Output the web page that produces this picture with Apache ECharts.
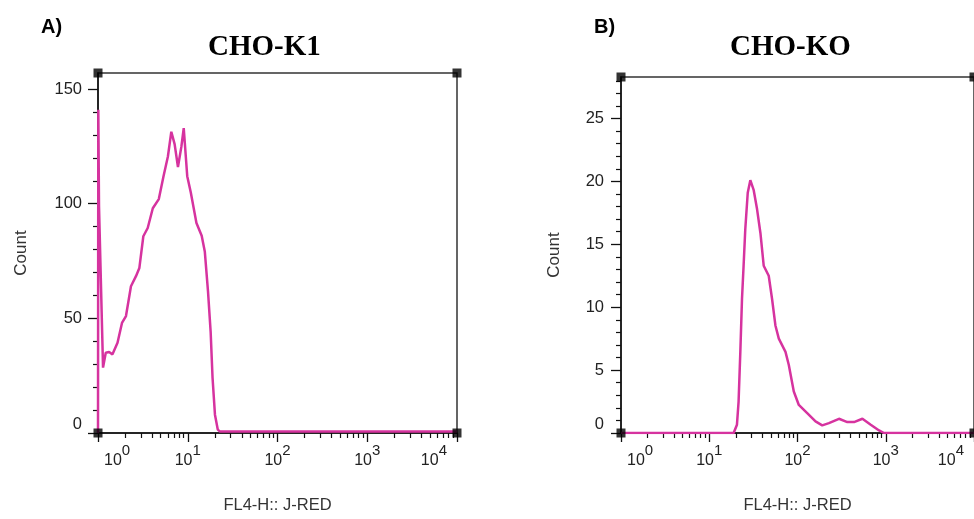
<!DOCTYPE html>
<html><head><meta charset="utf-8">
<script src="https://cdn.jsdelivr.net/npm/echarts@6/dist/echarts.min.js"></script>
<style>html,body{margin:0;padding:0;background:#fff}#c{width:974px;height:519px}</style>
</head><body><div id="c"></div>
<script>
// ---- data ----
const k1X = [1.0, 1.008, 1.026, 1.138, 1.22, 1.33, 1.45, 1.65, 1.85, 2.05, 2.33, 2.65, 2.89, 3.20, 3.58, 4.08, 4.76, 5.37, 6.01, 6.56, 7.14, 7.78, 8.50, 9.02, 9.87, 10.8, 12.5, 14.3, 15.5, 16.8, 18.0, 18.9, 20.1, 21.6, 22.9, 100, 1000, 10000];
const k1Y = [0, 141, 99, 28.5, 35, 35.3, 34.3, 39.4, 48, 51, 64, 68.4, 72, 85.8, 89.4, 98, 102, 112, 120.6, 131.4, 126, 116, 125, 133, 112, 105, 91.6, 86, 79, 62, 44, 24, 8, 1.5, 0.6, 0.6, 0.6, 0.6];
const koX = [1, 18.9, 20.6, 21.5, 22.5, 23.5, 24.5, 25.6, 27.3, 29.2, 31.9, 34.8, 38.0, 41.4, 47.2, 51.5, 56.2, 61.4, 73.1, 79.7, 90.8, 103.5, 128.8, 160, 190.6, 227, 295, 367, 437, 544, 676, 840, 956, 10000];
const koY = [0, 0, 0.66, 2.5, 6.45, 10.65, 13.3, 16.2, 19.1, 20.1, 19.3, 17.8, 15.9, 13.3, 12.5, 10.65, 8.55, 7.5, 6.45, 5.4, 3.3, 2.23, 1.58, 0.92, 0.61, 0.79, 1.13, 0.87, 0.87, 1.13, 0.66, 0.2, 0, 0];

const xMajorTicks = [1, 10, 100, 1000, 10000];
const xMinorTicks = [2,3,4,5,6,7,8,9,20,30,40,50,60,70,80,90,200,300,400,500,600,700,800,900,2000,3000,4000,5000,6000,7000,8000,9000];
const k1YTicks = [0, 50, 100, 150];
const k1YMinor = [10,20,30,40,60,70,80,90,110,120,130,140];
const koYTicks = [0, 5, 10, 15, 20, 25];
const koYMinor = [1,2,3,4,6,7,8,9,11,12,13,14,16,17,18,19,21,22,23,24,26,27,28];
const xRange = [1, 10000];
const k1YMax = 157;
const koYMax = 28.3;
const titles = ['CHO-K1', 'CHO-KO'];
const panelTags = ['A)', 'B)'];
const xName = 'FL4-H:: J-RED';
const yName = 'Count';

// ---- styling ----
const SANS = 'Liberation Sans, Arial, Helvetica, sans-serif';
const SERIF = 'Liberation Serif, Times New Roman, serif';
const LINE = '#d6339f';
const TXT = '#222';

function zip(a, b) { return a.map((v, i) => [v, b[i]]); }

function expLabel(v) {
  const e = Math.round(Math.log10(v));
  if (v <= xRange[0]) return '{bl|10}{s|' + e + '}';
  if (v >= xRange[1]) return '{b|10}{sr|' + e + '}';
  return '{b|10}{s|' + e + '}';
}
const rich = {
  b: { fontFamily: SANS, fontSize: 16, lineHeight: 36, color: TXT },
  bl: { fontFamily: SANS, fontSize: 16, lineHeight: 36, color: TXT, padding: [0, 0, 0, 6] },
  s: { fontFamily: SANS, fontSize: 15, verticalAlign: 'top', color: TXT },
  sr: { fontFamily: SANS, fontSize: 15, verticalAlign: 'top', color: TXT, padding: [0, 10, 0, 0] }
};

function xAxes(gi) {
  return [{
    type: 'log', logBase: 10, gridIndex: gi, min: xRange[0], max: xRange[1], position: 'bottom',
    name: xName, nameLocation: 'middle', nameGap: 64,
    nameTextStyle: { fontFamily: SANS, fontSize: 16.5, color: '#333' },
    axisLine: { show: true, onZero: false, lineStyle: { color: '#111', width: 1.5 } },
    axisTick: { show: true, length: 9, customValues: xMajorTicks, lineStyle: { color: '#111', width: 1.3 } },
    axisLabel: { show: true, customValues: xMajorTicks, margin: 10, formatter: expLabel, rich: rich,
      alignMinLabel: 'left', alignMaxLabel: 'right' },
    splitLine: { show: false }, minorTick: { show: false }
  }, {
    type: 'log', logBase: 10, gridIndex: gi, min: xRange[0], max: xRange[1], position: 'bottom',
    axisLine: { show: false, onZero: false },
    axisTick: { show: true, length: 5, customValues: xMinorTicks, lineStyle: { color: '#111', width: 1.2 } },
    axisLabel: { show: false }, splitLine: { show: false }
  }];
}
function yAxes(gi, ymax, ticks, minor, gap, margin) {
  return [{
    type: 'value', gridIndex: gi, min: 0, max: ymax, position: 'left',
    name: yName, nameLocation: 'middle', nameGap: gap,
    nameTextStyle: { fontFamily: SANS, fontSize: 17, color: '#333' },
    axisLine: { show: true, onZero: false, lineStyle: { color: '#111', width: 1.5 } },
    axisTick: { show: true, length: 10, customValues: ticks, lineStyle: { color: '#111', width: 1.3 } },
    axisLabel: { show: true, customValues: ticks, margin: margin, fontFamily: SANS, fontSize: 16.5, color: TXT,
      verticalAlignMinLabel: 'bottom' },
    splitLine: { show: false }
  }, {
    type: 'value', gridIndex: gi, min: 0, max: ymax, position: 'left',
    axisLine: { show: false, onZero: false },
    axisTick: { show: true, length: 5, customValues: minor, lineStyle: { color: '#111', width: 1.2 } },
    axisLabel: { show: false }, splitLine: { show: false }
  }];
}
function corners(ymax) {
  return [[xRange[0], 0], [xRange[1], 0], [xRange[0], ymax], [xRange[1], ymax]];
}

const chart = echarts.init(document.getElementById('c'), null, { renderer: 'canvas' });
chart.setOption({
  animation: false,
  backgroundColor: '#fff',
  title: [
    { text: panelTags[0], left: 41, top: 17, padding: 0, textStyle: { fontFamily: SANS, fontWeight: 'bold', fontSize: 20, color: '#000' } },
    { text: titles[0], left: 208, top: 33, padding: 0, textStyle: { fontFamily: SERIF, fontWeight: 'bold', fontSize: 29, color: '#000' } },
    { text: panelTags[1], left: 594, top: 17, padding: 0, textStyle: { fontFamily: SANS, fontWeight: 'bold', fontSize: 20, color: '#000' } },
    { text: titles[1], left: 730, top: 33, padding: 0, textStyle: { fontFamily: SERIF, fontWeight: 'bold', fontSize: 29, color: '#000' } }
  ],
  grid: [
    { left: 98, top: 73, width: 359, height: 361, show: true, borderColor: '#333', borderWidth: 1.5, backgroundColor: 'transparent' },
    { left: 621, top: 77, width: 353, height: 358, show: true, borderColor: '#333', borderWidth: 1.5, backgroundColor: 'transparent' }
  ],
  xAxis: xAxes(0).concat(xAxes(1)),
  yAxis: yAxes(0, k1YMax, k1YTicks, k1YMinor, 68, 16).concat(yAxes(1, koYMax, koYTicks, koYMinor, 58, 17)),
  series: [
    { type: 'line', xAxisIndex: 0, yAxisIndex: 0, data: zip(k1X, k1Y), showSymbol: false, symbol: 'none',
      lineStyle: { color: LINE, width: 2.5 }, z: 3 },
    { type: 'line', xAxisIndex: 2, yAxisIndex: 2, data: zip(koX, koY), showSymbol: false, symbol: 'none',
      lineStyle: { color: LINE, width: 2.5 }, z: 3 },
    { type: 'scatter', xAxisIndex: 0, yAxisIndex: 0, data: corners(k1YMax), symbol: 'rect', symbolSize: 9,
      itemStyle: { color: '#000' }, clip: false, silent: true, z: 4 },
    { type: 'scatter', xAxisIndex: 2, yAxisIndex: 2, data: corners(koYMax), symbol: 'rect', symbolSize: 9,
      itemStyle: { color: '#000' }, clip: false, silent: true, z: 4 }
  ]
});
</script>
</body></html>
